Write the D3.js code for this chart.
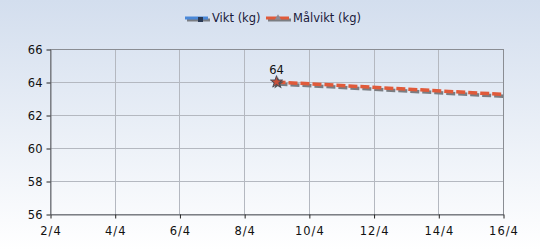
<!DOCTYPE html>
<html>
<head>
<meta charset="utf-8">
<script src="https://cdn.jsdelivr.net/npm/d3@7"></script>
<style>
  html, body { margin: 0; padding: 0; }
  body { width: 540px; height: 250px; overflow: hidden; }
  text { font-family: "DejaVu Sans", Verdana, sans-serif; }
</style>
</head>
<body>
<div id="chart"></div>
<script>
// Weight chart data (day of April)
const xTicks = [2, 4, 6, 8, 10, 12, 14, 16];
const yTicks = [56, 58, 60, 62, 64, 66];
const viktDays = [9];
const viktValues = [64];
const goalDays = [9, 16];
const goalValues = [64, 63.25];
const seriesNames = ['Vikt (kg)', 'Målvikt (kg)'];

const width = 540, height = 250;
const margin = { top: 49, right: 37, bottom: 36, left: 50 };
const innerW = width - margin.left - margin.right;
const innerH = height - margin.top - margin.bottom;

const svg = d3.select('#chart').append('svg')
  .attr('width', width)
  .attr('height', height);

// Background gradient
const defs = svg.append('defs');
const grad = defs.append('linearGradient')
  .attr('id', 'bg')
  .attr('x1', 0).attr('y1', 0).attr('x2', 0).attr('y2', 1);
grad.append('stop').attr('offset', '0%').attr('stop-color', '#d3deee');
grad.append('stop').attr('offset', '100%').attr('stop-color', '#ffffff');
svg.append('rect').attr('width', width).attr('height', height).attr('fill', 'url(#bg)');

const x = d3.scaleLinear().domain([2, 16]).range([0, innerW]);
const y = d3.scaleLinear().domain([56, 66]).range([innerH, 0]);

const g = svg.append('g').attr('transform', `translate(${margin.left},${margin.top})`);

// Grid
g.append('g').selectAll('line')
  .data(xTicks.slice(1, -1))
  .enter().append('line')
  .attr('x1', d => Math.round(x(d)) + 0.5).attr('x2', d => Math.round(x(d)) + 0.5)
  .attr('y1', 0).attr('y2', innerH)
  .attr('stroke', '#b4b8c0');
g.append('g').selectAll('line')
  .data(yTicks.slice(1, -1))
  .enter().append('line')
  .attr('y1', d => Math.round(y(d)) + 0.5).attr('y2', d => Math.round(y(d)) + 0.5)
  .attr('x1', 0).attr('x2', innerW)
  .attr('stroke', '#b4b8c0');

// Plot frame
g.append('rect')
  .attr('x', 0.5).attr('y', 0.5)
  .attr('width', innerW).attr('height', innerH)
  .attr('fill', 'none')
  .attr('stroke', '#8a8d93');

// Axes
const xAxis = g.append('g')
  .attr('transform', `translate(0.5,${innerH + 0.5})`)
  .call(d3.axisBottom(x).tickValues(xTicks).tickSize(4).tickSizeOuter(0)
    .tickFormat(d => d + '/4'));
const yAxis = g.append('g')
  .attr('transform', 'translate(0.5,0.5)')
  .call(d3.axisLeft(y).tickValues(yTicks).tickSize(4).tickSizeOuter(0));

[xAxis, yAxis].forEach(a => {
  a.select('.domain').attr('stroke', '#6e7076');
  a.selectAll('.tick line').attr('stroke', '#222');
  a.selectAll('.tick text')
    .attr('font-size', '11.5px')
    .attr('fill', '#111');
});
xAxis.selectAll('.tick text')
  .attr('dy', null).attr('y', 20)
  .attr('letter-spacing', '1px');
yAxis.selectAll('.tick text').attr('x', -8);

// Goal line with shadow
const goalData = goalDays.map((d, i) => ({ d, v: goalValues[i] }));
const line = d3.line().x(p => x(p.d)).y(p => y(p.v));
g.append('path')
  .datum(goalData)
  .attr('d', line)
  .attr('transform', 'translate(2,2)')
  .attr('fill', 'none')
  .attr('stroke', '#7a7d82')
  .attr('stroke-width', 3.5)
  .attr('stroke-dasharray', '9,3');
g.append('path')
  .datum(goalData)
  .attr('d', line)
  .attr('fill', 'none')
  .attr('stroke', '#e05a3a')
  .attr('stroke-width', 3.5)
  .attr('stroke-dasharray', '9,3');

// Star marker
const star = d3.symbol().type(d3.symbolStar).size(45);
g.append('path')
  .attr('d', star())
  .attr('transform', `translate(${x(goalDays[0]) + 1.5},${y(goalValues[0]) + 1.5})`)
  .attr('fill', '#555');
g.append('path')
  .attr('d', star())
  .attr('transform', `translate(${x(goalDays[0])},${y(goalValues[0])})`)
  .attr('fill', '#c8503a')
  .attr('stroke', '#4a4a55')
  .attr('stroke-width', 1);

// Vikt points and labels
const vikt = viktDays.map((d, i) => ({ d, v: viktValues[i] }));
g.selectAll('.vlabel')
  .data(vikt)
  .enter().append('text')
  .attr('x', p => x(p.d))
  .attr('y', p => y(p.v) - 8)
  .attr('text-anchor', 'middle')
  .attr('font-size', '11.5px')
  .attr('fill', '#111')
  .text(p => p.v);

// Legend
const legend = svg.append('g').attr('transform', 'translate(0,18)');
const items = [
  { name: seriesNames[0], color: '#4a88d8', x0: 185 },
  { name: seriesNames[1], color: '#e05a3a', x0: 266 }
];
items.forEach((it, i) => {
  legend.append('line')
    .attr('x1', it.x0 + 2).attr('x2', it.x0 + 25)
    .attr('y1', 2).attr('y2', 2)
    .attr('stroke', '#7a7d82').attr('stroke-width', 3);
  legend.append('line')
    .attr('x1', it.x0).attr('x2', it.x0 + 23)
    .attr('y1', 0).attr('y2', 0)
    .attr('stroke', it.color).attr('stroke-width', 3);
  if (i === 0) {
    legend.append('rect')
      .attr('x', it.x0 + 13).attr('y', -1).attr('width', 5).attr('height', 5)
      .attr('fill', '#2a3a55');
  } else {
    legend.append('path')
      .attr('d', d3.symbol().type(d3.symbolTriangle).size(18)())
      .attr('transform', `translate(${it.x0 + 12},0)`)
      .attr('fill', '#8a8a95');
  }
  legend.append('text')
    .attr('x', it.x0 + 27)
    .attr('y', 4)
    .attr('font-size', '11.5px')
    .attr('fill', '#1a1a3a')
    .text(it.name);
});
</script>
</body>
</html>
